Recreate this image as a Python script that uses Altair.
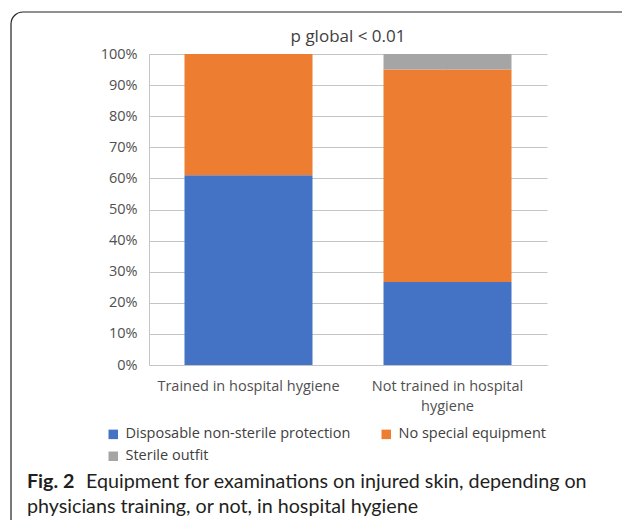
import altair as alt
import pandas as pd

groups = ["Trained in hospital hygiene", "Not trained in hospital hygiene"]
series = ["Disposable non-sterile protection", "No special equipment", "Sterile outfit"]
disposable = [61.0, 26.7]
no_special = [39.0, 68.3]
sterile = [0.0, 5.0]
colors = ["#4472C4", "#ED7D31", "#A5A5A5"]
title_text = "p global < 0.01"
caption_bold = "Fig. 2"
caption_line1 = "Equipment for examinations on injured skin, depending on"
caption_line2 = "physicians training, or not, in hospital hygiene"

rows = []
for gi, g in enumerate(groups):
    for si, (s, vals) in enumerate(zip(series, [disposable, no_special, sterile])):
        rows.append({"group": g, "series": s, "value": vals[gi], "order": si})
df = pd.DataFrame(rows)

FONT = "Open Sans"
GRID = "#c4c4c4"
LAB = "#505050"
FS = 14.5

bars = alt.Chart(df).mark_bar(size=128).encode(
    x=alt.X("group:N", sort=groups, title=None,
            scale=alt.Scale(paddingInner=0.36, paddingOuter=0.18),
            axis=alt.Axis(labelAngle=0, labelFontSize=FS, labelColor=LAB, labelFont=FONT,
                          labelPadding=14, ticks=False, domainColor=GRID, labelLineHeight=20,
                          labelLimit=400,
                          labelExpr="datum.value == 'Not trained in hospital hygiene' ? ['Not trained in hospital', 'hygiene'] : datum.label")),
    y=alt.Y("value:Q", stack="zero", title=None,
            scale=alt.Scale(domain=[0, 100], nice=False),
            axis=alt.Axis(values=list(range(0, 101, 10)), labelExpr="datum.value + '%'",
                          labelFontSize=FS, labelColor=LAB, labelFont=FONT, labelPadding=12,
                          ticks=False, gridColor=GRID, domainColor=GRID)),
    color=alt.Color("series:N", sort=series,
                    scale=alt.Scale(domain=series, range=colors),
                    legend=alt.Legend(title=None, orient="none", legendX=-43, legendY=373,
                                      columns=2, direction="horizontal", symbolType="square",
                                      symbolSize=90, symbolStrokeWidth=0, labelFontSize=FS,
                                      labelFont=FONT, labelColor="#404040", labelLimit=400,
                                      columnPadding=28, rowPadding=7, padding=0, labelOffset=5)),
    order=alt.Order("order:Q", sort="ascending"),
)

one = alt.Data(values=[{"a": 1}])

border = alt.Chart(one).mark_rect(fill=None, filled=False, stroke="#222222", strokeWidth=1.2,
                                  cornerRadius=12).encode(
    x=alt.value(-138), x2=alt.value(495), y=alt.value(-42), y2=alt.value(478))

title = alt.Chart(one).mark_text(text=title_text, font=FONT, fontSize=17, align="center",
                                 baseline="alphabetic", color="#404040").encode(
    x=alt.value(199), y=alt.value(-12))

cap_bold = alt.Chart(one).mark_text(text=caption_bold, font="Lato", fontSize=19.7, fontWeight="bold",
                                    align="left", baseline="alphabetic", color="#231f20").encode(
    x=alt.value(-122), y=alt.value(434))
cap1 = alt.Chart(one).mark_text(text=caption_line1, font="Lato", fontSize=19.7,
                                align="left", baseline="alphabetic", color="#231f20").encode(
    x=alt.value(-63), y=alt.value(434))
cap2 = alt.Chart(one).mark_text(text=caption_line2, font="Lato", fontSize=19.7,
                                align="left", baseline="alphabetic", color="#231f20").encode(
    x=alt.value(-122), y=alt.value(459))

chart = alt.layer(bars, border, title, cap_bold, cap1, cap2).properties(
    width=398, height=311,
    autosize=alt.AutoSizeParams(type="none"),
    padding={"left": 141, "top": 46, "right": 75, "bottom": 155},
).configure_view(stroke=None).configure_axis(grid=True)

chart.save("out.html", embed_options={"renderer": "svg", "actions": False})
